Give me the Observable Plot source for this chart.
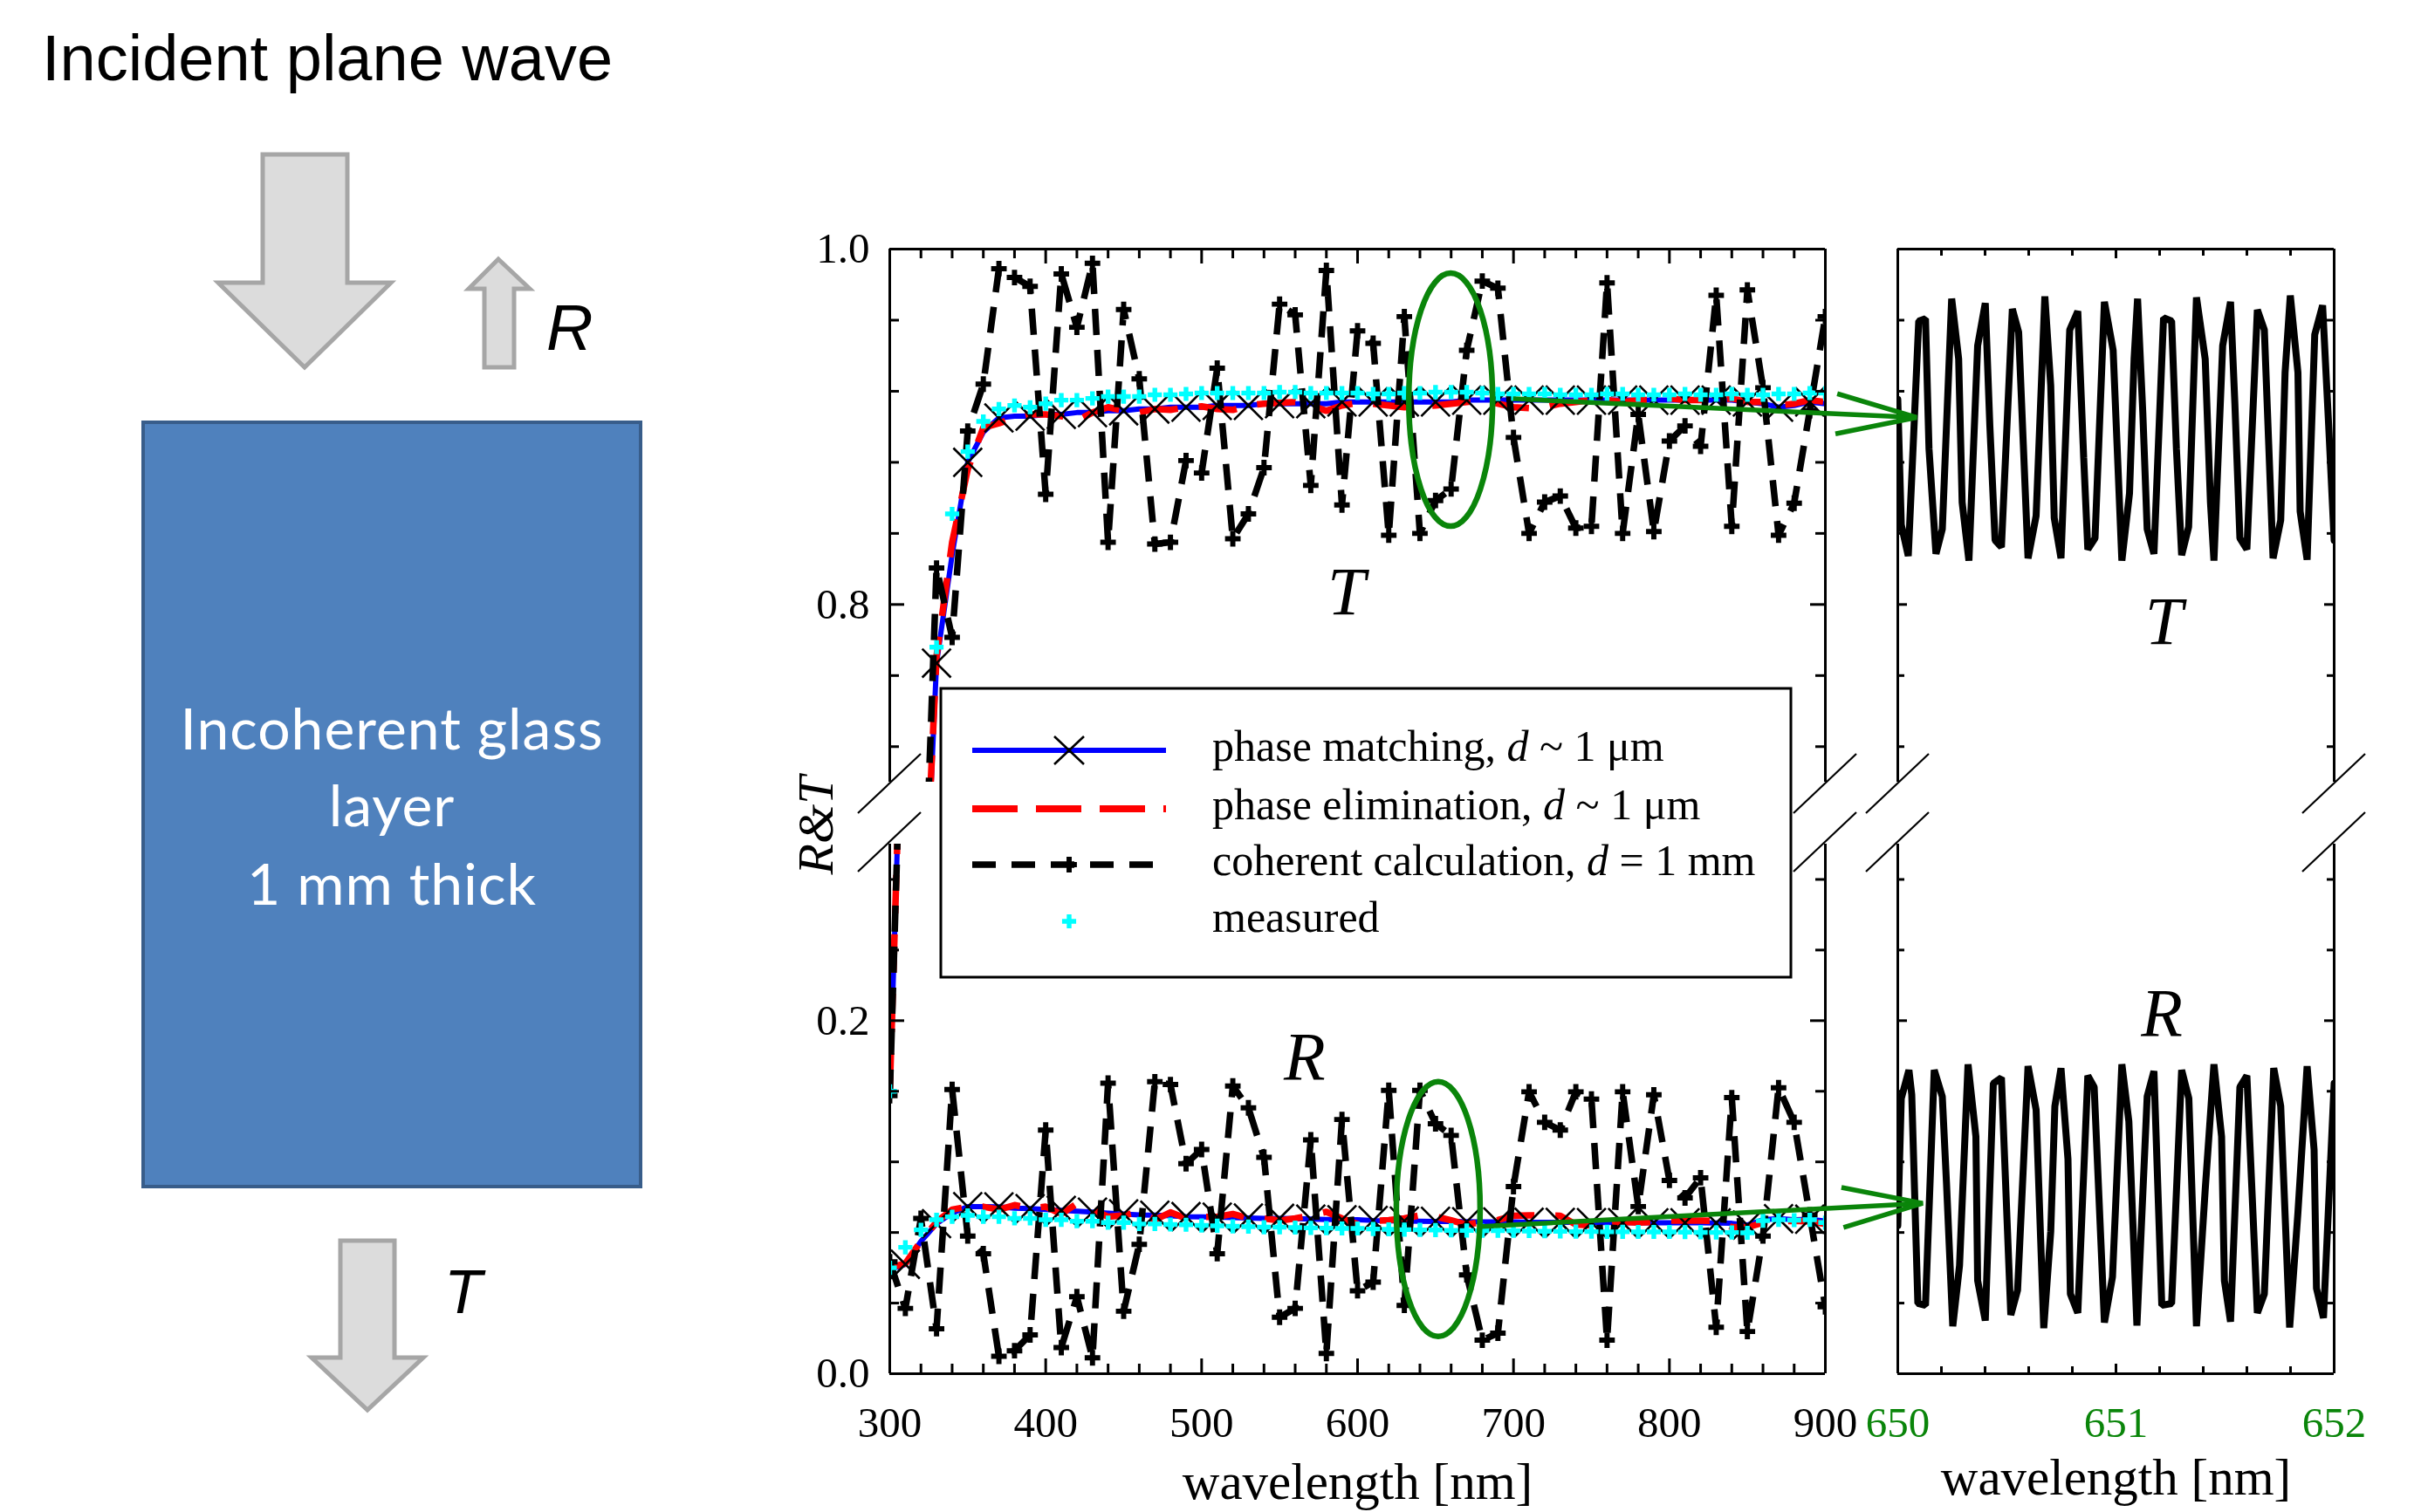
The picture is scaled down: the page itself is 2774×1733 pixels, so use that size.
<!DOCTYPE html>
<html><head><meta charset="utf-8">
<script src="https://cdn.jsdelivr.net/npm/d3@7"></script>
<script src="https://cdn.jsdelivr.net/npm/@observablehq/plot@0.6"></script>
<style>
html,body{margin:0;padding:0;background:#fff;}
#root{position:relative;width:2774px;height:1733px;overflow:hidden;background:#fff;}
</style></head><body><div id="root"></div>
<script>
// ---------------- DATA ----------------
const wavelengthNm = [300,310,320,330,340,350,360,370,380,390,400,410,420,430,440,450,460,470,480,490,500,510,520,530,540,550,560,570,580,590,600,610,620,630,640,650,660,670,680,690,700,710,720,730,740,750,760,770,780,790,800,810,820,830,840,850,860,870,880,890,900];

const T_phaseMatching = [0.157,0.45,0.57,0.767,0.828,0.880,0.897,0.905,0.906,0.906,0.907,0.907,0.908,0.908,0.909,0.909,0.910,0.910,0.911,0.911,0.911,0.912,0.912,0.912,0.913,0.913,0.913,0.913,0.913,0.914,0.914,0.914,0.914,0.914,0.914,0.914,0.914,0.915,0.915,0.915,0.915,0.915,0.915,0.915,0.915,0.915,0.915,0.915,0.915,0.915,0.915,0.915,0.915,0.915,0.915,0.914,0.913,0.911,0.912,0.914,0.913];
const T_phaseElimination = [0.16,0.45,0.58,0.771,0.835,0.876,0.8995,0.902,0.905,0.907,0.907,0.906,0.9035,0.908,0.911,0.909,0.908,0.910,0.9095,0.911,0.9115,0.910,0.9095,0.912,0.913,0.9135,0.914,0.912,0.909,0.912,0.9135,0.913,0.912,0.911,0.9115,0.912,0.913,0.914,0.915,0.913,0.911,0.9105,0.911,0.913,0.914,0.915,0.915,0.914,0.915,0.915,0.916,0.915,0.915,0.915,0.916,0.914,0.914,0.912,0.913,0.915,0.914];
const T_coherent = [0.1575,0.45,0.574,0.8205,0.7815,0.8976,0.924,0.989,0.984,0.979,0.862,0.986,0.956,0.992,0.835,0.966,0.927,0.834,0.835,0.881,0.874,0.933,0.837,0.851,0.877,0.969,0.963,0.867,0.988,0.856,0.954,0.947,0.839,0.962,0.84,0.8585,0.865,0.943,0.982,0.978,0.894,0.84,0.8576,0.861,0.843,0.844,0.981,0.84,0.907,0.841,0.892,0.9005,0.889,0.974,0.844,0.977,0.922,0.839,0.857,0.909,0.962];
const T_measured = [0.16,0.46,0.60,0.776,0.851,0.886,0.903,0.910,0.912,0.911,0.913,0.915,0.915,0.916,0.917,0.917,0.917,0.918,0.918,0.9185,0.919,0.919,0.919,0.919,0.919,0.9195,0.9195,0.919,0.919,0.919,0.919,0.9185,0.9185,0.919,0.919,0.9195,0.9195,0.9195,0.919,0.9185,0.9185,0.9185,0.9185,0.918,0.918,0.918,0.9185,0.9185,0.918,0.918,0.918,0.9185,0.918,0.918,0.9185,0.918,0.918,0.9185,0.9185,0.919,0.919];

const R_phaseMatching = [0.059,0.062,0.075,0.085,0.091,0.0946,0.0946,0.0945,0.0938,0.0935,0.093,0.0925,0.092,0.0915,0.091,0.0905,0.090,0.0898,0.0895,0.089,0.0889,0.0887,0.0885,0.0882,0.088,0.088,0.0878,0.0876,0.0874,0.0872,0.0872,0.0868,0.0866,0.0865,0.0864,0.0863,0.0862,0.0861,0.086,0.086,0.086,0.0858,0.0858,0.0857,0.0857,0.0856,0.0856,0.0856,0.0855,0.0855,0.0855,0.0855,0.0855,0.0854,0.0852,0.0842,0.0872,0.0878,0.0872,0.0875,0.0865];
const R_phaseElimination = [0.06,0.0625,0.075,0.086,0.093,0.0946,0.0946,0.093,0.0955,0.0938,0.0946,0.0905,0.0963,0.093,0.0889,0.0897,0.0917,0.0872,0.0914,0.088,0.0889,0.0889,0.0905,0.088,0.088,0.0867,0.088,0.0897,0.0917,0.088,0.0848,0.0866,0.087,0.088,0.0897,0.089,0.0869,0.0845,0.086,0.087,0.0895,0.0897,0.0897,0.0895,0.0845,0.084,0.0842,0.086,0.0856,0.086,0.0867,0.0867,0.0867,0.0865,0.083,0.083,0.0855,0.0864,0.0866,0.0862,0.0848];
const R_coherent = [0.0634,0.037,0.088,0.0255,0.161,0.078,0.068,0.0099,0.013,0.022,0.138,0.0148,0.0436,0.009,0.1646,0.0354,0.0733,0.1654,0.1638,0.119,0.127,0.068,0.163,0.1506,0.1226,0.032,0.037,0.1325,0.0115,0.144,0.047,0.0519,0.1605,0.0387,0.1605,0.1416,0.135,0.056,0.019,0.023,0.106,0.1597,0.1424,0.138,0.1597,0.1556,0.019,0.1597,0.0947,0.158,0.1095,0.0996,0.111,0.0263,0.1564,0.0239,0.078,0.162,0.1424,0.09,0.0379];
const R_measured = [0.060,0.0716,0.0815,0.0872,0.0889,0.0897,0.0889,0.0889,0.088,0.088,0.0872,0.0872,0.0864,0.0864,0.0856,0.0856,0.0848,0.0848,0.0845,0.0844,0.084,0.0838,0.0835,0.0833,0.083,0.083,0.0828,0.0826,0.0825,0.0823,0.0823,0.082,0.0818,0.0816,0.0815,0.0814,0.0812,0.0811,0.081,0.081,0.081,0.0808,0.0807,0.0806,0.0805,0.0805,0.0804,0.0804,0.0803,0.0803,0.0803,0.0802,0.0801,0.08,0.08,0.0798,0.0867,0.0872,0.087,0.0872,0.0856];

// zoomed coherent calculation 650-652 nm
const zoomT_nm = [650.000,650.016,650.048,650.096,650.127,650.143,650.175,650.204,650.247,650.279,650.295,650.326,650.366,650.401,650.422,650.446,650.475,650.525,650.554,650.597,650.634,650.661,650.674,650.701,650.717,650.748,650.788,650.825,650.852,650.871,650.904,650.947,650.987,651.027,651.062,651.083,651.099,651.123,651.143,651.174,651.218,651.255,651.277,651.301,651.333,651.369,651.409,651.433,651.449,651.489,651.525,651.545,651.568,651.600,651.648,651.680,651.720,651.755,651.775,651.799,651.834,651.844,651.876,651.911,651.947,651.975,652.000];
const zoomT = [0.9154,0.8449,0.8273,0.9595,0.9608,0.8877,0.8285,0.8424,0.9721,0.9381,0.8575,0.8247,0.9456,0.9696,0.9003,0.8361,0.8323,0.9663,0.9532,0.826,0.8499,0.933,0.9734,0.923,0.8487,0.826,0.9545,0.965,0.8827,0.831,0.8373,0.9703,0.9431,0.8247,0.8625,0.9381,0.9721,0.9079,0.8424,0.8285,0.9613,0.9595,0.8877,0.8278,0.8436,0.9728,0.9381,0.8575,0.8247,0.9456,0.9703,0.9129,0.8373,0.831,0.9658,0.9545,0.826,0.8474,0.9305,0.9739,0.9305,0.8524,0.8252,0.9519,0.9683,0.9003,0.8361];
const zoomR_nm = [650.000,650.016,650.051,650.064,650.092,650.127,650.167,650.204,650.223,650.252,650.283,650.322,650.358,650.366,650.401,650.438,650.475,650.518,650.549,650.597,650.634,650.669,650.701,650.720,650.748,650.780,650.791,650.825,650.871,650.900,650.947,650.984,651.027,651.059,651.096,651.143,651.174,651.210,651.255,651.301,651.334,651.369,651.409,651.449,651.484,651.497,651.525,651.568,651.600,651.648,651.680,651.723,651.755,651.796,651.834,651.876,651.908,651.919,651.951,652.000];
const zoomR = [0.0839,0.1559,0.172,0.1581,0.0398,0.0387,0.172,0.157,0.1086,0.0269,0.0613,0.1753,0.1344,0.0527,0.0301,0.1645,0.1677,0.0333,0.0473,0.1742,0.1495,0.0258,0.0806,0.1516,0.1731,0.1215,0.0452,0.0344,0.1688,0.1624,0.029,0.0548,0.1753,0.143,0.0273,0.157,0.1714,0.0387,0.0398,0.172,0.1559,0.0269,0.1043,0.1753,0.1344,0.0527,0.0295,0.1624,0.1688,0.0344,0.0452,0.1731,0.1516,0.0262,0.0914,0.1742,0.1269,0.0484,0.0316,0.1645];

// tick values
const xTicksMain = [300,400,500,600,700,800,900];
const xTicksMainMinor = [320,340,360,380,420,440,460,480,520,540,560,580,620,640,660,680,720,740,760,780,820,840,860,880];
const xTicksZoom = [650,651,652];
const xTicksZoomMinor = [650.2,650.4,650.6,650.8,651.2,651.4,651.6,651.8];
const yTicksUpper = [0.8,1.0];
const yTicksUpperMinor = [0.72,0.76,0.84,0.88,0.92,0.96];
const yTicksLower = [0.0,0.2];
const yTicksLowerMinor = [0.04,0.08,0.12,0.16,0.24,0.28];

const legendLabels = ["phase matching", "phase elimination", "coherent calculation", "measured"];

// ---------------- DRAWING ----------------
const root = document.getElementById("root");
const SERIF = "'Liberation Serif','Times New Roman',serif";
const GREEN = "#0a850a";
const series = vals => wavelengthNm.map((w, i) => ({w, v: vals[i]}));
const pairs = (xs, ys) => xs.map((x, i) => ({w: x, v: ys[i]}));

function dataMarks() {
  const m = [];
  for (const s of [T_phaseMatching, R_phaseMatching])
    m.push(Plot.line(series(s), {x: "w", y: "v", stroke: "#0000ff", strokeWidth: 6, clip: true}));
  for (const s of [T_phaseElimination, R_phaseElimination])
    m.push(Plot.line(series(s), {x: "w", y: "v", stroke: "#ff0000", strokeWidth: 7.5, strokeDasharray: "44,24", strokeLinecap: "butt", clip: true}));
  for (const s of [T_phaseMatching, R_phaseMatching])
    m.push(Plot.dot(series(s).filter(d => (d.w - 310) % 20 === 0), {x: "w", y: "v", symbol: "times", stroke: "black", fill: "none", strokeWidth: 2.6, r: 15, clip: true}));
  for (const s of [T_coherent, R_coherent]) {
    m.push(Plot.line(series(s), {x: "w", y: "v", stroke: "black", strokeWidth: 7.5, strokeDasharray: "30,17", strokeLinecap: "butt", strokeLinejoin: "miter", clip: true}));
    m.push(Plot.dot(series(s), {x: "w", y: "v", symbol: "cross", fill: "black", stroke: "none", r: 7.5, clip: true}));
  }
  for (const s of [T_measured, R_measured])
    m.push(Plot.dot(series(s), {x: "w", y: "v", symbol: "cross", fill: "#00ffff", stroke: "none", r: 6.8, clip: true}));
  return m;
}

function tickMarks(fw, fh, xMaj, xMin, xSide, yMaj, yMin, lenMaj, lenMin) {
  const m = [];
  const xo = (L) => xSide === "top" ? {insetBottom: fh - L} : {insetTop: fh - L};
  m.push(Plot.tickX(xMaj, {x: d => d, stroke: "black", strokeWidth: 3, ...xo(lenMaj)}));
  m.push(Plot.tickX(xMin, {x: d => d, stroke: "black", strokeWidth: 3, ...xo(lenMin)}));
  for (const [vals, L] of [[yMaj, lenMaj], [yMin, lenMin]]) {
    m.push(Plot.tickY(vals, {y: d => d, stroke: "black", strokeWidth: 3, insetRight: fw - L}));
    m.push(Plot.tickY(vals, {y: d => d, stroke: "black", strokeWidth: 3, insetLeft: fw - L}));
  }
  return m;
}

function panel({fx0, fx1, fy0, fy1, mL, mR, mT, mB, xDomain, yDomain, x, y, marks, color = "black"}) {
  const fw = fx1 - fx0, fh = fy1 - fy0;
  const p = Plot.plot({
    width: mL + fw + mR, height: mT + fh + mB,
    marginLeft: mL, marginRight: mR, marginTop: mT, marginBottom: mB,
    x: {domain: xDomain, ...x}, y: {domain: yDomain, ...y},
    style: `background: transparent; overflow: visible; font-family: ${SERIF}; font-size: 49px; color: ${color}; max-width: none;`,
    marks: marks(fw, fh)
  });
  p.style.position = "absolute";
  p.style.left = (fx0 - mL) + "px";
  p.style.top = (fy0 - mT) + "px";
  root.appendChild(p);
  const sx = p.scale("x"), sy = p.scale("y");
  return {X: v => fx0 - mL + sx.apply(v), Y: v => fy0 - mT + sy.apply(v)};
}

const MAIN = {fx0: 1019, fx1: 2091}, ZOOM = {fx0: 2174, fx1: 2674};
const UP = {fy0: 285, fy1: 896}, LO = {fy0: 967, fy1: 1574};
const italicLabel = (x, y, t) => Plot.text([{x, y, t}], {x: "x", y: "y", text: "t", fontStyle: "italic", fontSize: 78, fontFamily: SERIF, fill: "black"});
const frameRules = (xd, yEdge) => [
  Plot.ruleX(xd, {x: d => d, stroke: "black", strokeWidth: 3}),
  Plot.ruleY([yEdge], {y: d => d, stroke: "black", strokeWidth: 3})
];

// upper main (T)
const uMain = panel({...MAIN, ...UP, mL: 130, mR: 30, mT: 40, mB: 20,
  xDomain: [300, 900], yDomain: [0.7, 1.0],
  x: {axis: null},
  y: {ticks: yTicksUpper, tickSize: 0, tickPadding: 23, tickFormat: ".1f", label: null},
  marks: (fw, fh) => [
    ...dataMarks(),
    ...tickMarks(fw, fh, xTicksMain, xTicksMainMinor, "top", yTicksUpper, yTicksUpperMinor, 17, 11),
    ...frameRules([300, 900], 1.0),
    italicLabel(592.8, 0.807, "T")
  ]});

// lower main (R)
const lMain = panel({...MAIN, ...LO, mL: 130, mR: 30, mT: 20, mB: 159,
  xDomain: [300, 900], yDomain: [0, 0.3],
  x: {ticks: xTicksMain, tickSize: 0, tickPadding: 38, tickFormat: "d", label: null},
  y: {ticks: yTicksLower, tickSize: 0, tickPadding: 23, tickFormat: ".1f", label: null},
  marks: (fw, fh) => [
    ...dataMarks(),
    ...tickMarks(fw, fh, xTicksMain, xTicksMainMinor, "bottom", yTicksLower, yTicksLowerMinor, 17, 11),
    ...frameRules([300, 900], 0),
    italicLabel(566, 0.179, "R"),
    Plot.text(["wavelength [nm]"], {text: d => d, frameAnchor: "bottom", dy: 143, lineAnchor: "bottom", fontSize: 59, fontFamily: SERIF, fill: "black"})
  ]});

// upper zoom (T)
const uZoom = panel({...ZOOM, ...UP, mL: 40, mR: 60, mT: 40, mB: 20,
  xDomain: [650, 652], yDomain: [0.7, 1.0],
  x: {axis: null}, y: {axis: null},
  marks: (fw, fh) => [
    Plot.line(pairs(zoomT_nm, zoomT), {x: "w", y: "v", stroke: "black", strokeWidth: 8, strokeLinejoin: "miter", clip: true}),
    ...tickMarks(fw, fh, xTicksZoom, xTicksZoomMinor, "top", yTicksUpper, yTicksUpperMinor, 11, 8),
    ...frameRules([650, 652], 1.0),
    italicLabel(651.22, 0.79, "T")
  ]});

// lower zoom (R)
const lZoom = panel({...ZOOM, ...LO, mL: 40, mR: 60, mT: 20, mB: 159, color: GREEN,
  xDomain: [650, 652], yDomain: [0, 0.3],
  x: {ticks: xTicksZoom, tickSize: 0, tickPadding: 38, tickFormat: "d", label: null}, y: {axis: null},
  marks: (fw, fh) => [
    Plot.line(pairs(zoomR_nm, zoomR), {x: "w", y: "v", stroke: "black", strokeWidth: 8, strokeLinejoin: "miter", clip: true}),
    ...tickMarks(fw, fh, xTicksZoom, xTicksZoomMinor, "bottom", yTicksLower, yTicksLowerMinor, 11, 8),
    ...frameRules([650, 652], 0),
    italicLabel(651.21, 0.204, "R"),
    Plot.text(["wavelength [nm]"], {text: d => d, frameAnchor: "bottom", dy: 138, lineAnchor: "bottom", fontSize: 59, fontFamily: SERIF, fill: "black"})
  ]});

// ---------------- OVERLAY (breaks, ellipses, arrows, y label) ----------------
const ov = d3.create("svg").attr("width", 2774).attr("height", 1733)
  .style("position", "absolute").style("left", "0px").style("top", "0px").style("overflow", "visible");
function breakMark(x, y) {
  ov.append("line").attr("x1", x - 36).attr("y1", y + 34).attr("x2", x + 36).attr("y2", y - 34)
    .attr("stroke", "black").attr("stroke-width", 2.2);
}
for (const [p, xs] of [[uMain, [300, 900]], [uZoom, [650, 652]]]) for (const v of xs) breakMark(p.X(v), p.Y(0.7) + 2);
for (const [p, xs] of [[lMain, [300, 900]], [lZoom, [650, 652]]]) for (const v of xs) breakMark(p.X(v), p.Y(0.3) - 2);

ov.append("ellipse").attr("cx", uMain.X(660)).attr("cy", uMain.Y(0.915)).attr("rx", 48).attr("ry", 145)
  .attr("fill", "none").attr("stroke", GREEN).attr("stroke-width", 6.5);
ov.append("ellipse").attr("cx", lMain.X(652)).attr("cy", lMain.Y(0.093)).attr("rx", 48).attr("ry", 146)
  .attr("fill", "none").attr("stroke", GREEN).attr("stroke-width", 6.5);
function arrow(x1, y1, x2, y2) {
  ov.append("line").attr("x1", x1).attr("y1", y1).attr("x2", x2).attr("y2", y2).attr("stroke", GREEN).attr("stroke-width", 5.5);
  const a = Math.atan2(y2 - y1, x2 - x1), L = 92, W = 23;
  const c = Math.cos(a), s = Math.sin(a);
  ov.append("polyline")
    .attr("points", `${x2 - L * c + W * s},${y2 - L * s - W * c} ${x2},${y2} ${x2 - L * c - W * s},${y2 - L * s + W * c}`)
    .attr("fill", "none").attr("stroke", GREEN).attr("stroke-width", 5.5).attr("stroke-linejoin", "miter");
}
arrow(uMain.X(700), uMain.Y(0.9155), uZoom.X(650.088), uZoom.Y(0.905));
arrow(lMain.X(677.6), lMain.Y(0.083), lZoom.X(650.116), lZoom.Y(0.0963));

ov.append("text").attr("transform", `translate(934,946) rotate(-90)`)
  .attr("text-anchor", "middle").attr("dominant-baseline", "central")
  .attr("font-family", SERIF).attr("font-style", "italic").attr("font-size", 58).text("R&T");
root.appendChild(ov.node());

// ---------------- LEGEND ----------------
const lg = d3.create("svg").attr("width", 2774).attr("height", 1733)
  .style("position", "absolute").style("left", "0px").style("top", "0px");
lg.append("rect").attr("x", 1078).attr("y", 789).attr("width", 974).attr("height", 331)
  .attr("fill", "white").attr("stroke", "black").attr("stroke-width", 3);
const rowY = [860, 927, 991, 1056];
lg.append("line").attr("x1", 1114).attr("x2", 1336).attr("y1", rowY[0]).attr("y2", rowY[0]).attr("stroke", "#0000ff").attr("stroke-width", 6);
lg.append("path").attr("d", `M${1225 - 17},${rowY[0] - 16}L${1225 + 17},${rowY[0] + 16}M${1225 - 17},${rowY[0] + 16}L${1225 + 17},${rowY[0] - 16}`).attr("stroke", "black").attr("stroke-width", 2.6);
lg.append("line").attr("x1", 1114).attr("x2", 1336).attr("y1", rowY[1]).attr("y2", rowY[1]).attr("stroke", "#ff0000").attr("stroke-width", 8).attr("stroke-dasharray", "52,21");
lg.append("line").attr("x1", 1114).attr("x2", 1336).attr("y1", rowY[2]).attr("y2", rowY[2]).attr("stroke", "black").attr("stroke-width", 7.5).attr("stroke-dasharray", "27,18");
lg.append("path").attr("d", d3.symbol(d3.symbolCross, Math.PI * 56)()).attr("transform", `translate(1225,${rowY[2]})`).attr("fill", "black");
lg.append("path").attr("d", d3.symbol(d3.symbolCross, Math.PI * 46)()).attr("transform", `translate(1225,${rowY[3]})`).attr("fill", "#00ffff");
const suffix = [[", ", "d", " ~ 1 μm"], [", ", "d", " ~ 1 μm"], [", ", "d", " = 1 mm"], null];
legendLabels.forEach((lab, i) => {
  const t = lg.append("text").attr("x", 1389).attr("y", rowY[i] + 12).attr("font-family", SERIF).attr("font-size", 50).attr("fill", "black");
  t.append("tspan").text(lab);
  if (suffix[i]) {
    t.append("tspan").text(suffix[i][0]);
    t.append("tspan").attr("font-style", "italic").text(suffix[i][1]);
    t.append("tspan").text(suffix[i][2]);
  }
});
root.appendChild(lg.node());

// ---------------- SCHEMATIC ----------------
const sc = d3.create("svg").attr("width", 880).attr("height", 1733)
  .style("position", "absolute").style("left", "0px").style("top", "0px");
const SANS = "'Liberation Sans', Arial, sans-serif";
sc.append("text").attr("x", 48).attr("y", 92).attr("font-family", SANS).attr("font-size", 74).text("Incident plane wave");
const arrowStyle = s => s.attr("fill", "#dcdcdc").attr("stroke", "#a6a6a6").attr("stroke-width", 5).attr("stroke-linejoin", "miter");
arrowStyle(sc.append("polygon").attr("points", "301,177 398,177 398,324 448,324 349,421 250,324 301,324"));
arrowStyle(sc.append("polygon").attr("points", "571,297 607,331 589,331 589,421 555,421 555,331 537,331"));
arrowStyle(sc.append("polygon").attr("points", "390,1422 452,1422 452,1556 485,1556 421,1616 357,1556 390,1556"));
sc.append("text").attr("x", 626).attr("y", 401).attr("font-family", SANS).attr("font-style", "italic").attr("font-size", 74).text("R");
sc.append("text").attr("x", 509).attr("y", 1505).attr("font-family", SANS).attr("font-style", "italic").attr("font-size", 71).text("T");
sc.append("rect").attr("x", 164).attr("y", 484).attr("width", 570).attr("height", 876)
  .attr("fill", "#4f81bd").attr("stroke", "#385d8a").attr("stroke-width", 4);
[["Incoherent glass", 859], ["layer", 947], ["1 mm thick", 1037]].forEach(([t, y]) =>
  sc.append("text").attr("x", 449).attr("y", y).attr("text-anchor", "middle").attr("font-family", "Lato, 'Open Sans', sans-serif")
    .attr("font-size", 66).attr("fill", "white").attr("letter-spacing", 1).text(t));
root.insertBefore(sc.node(), root.firstChild);
</script>
</body></html>
